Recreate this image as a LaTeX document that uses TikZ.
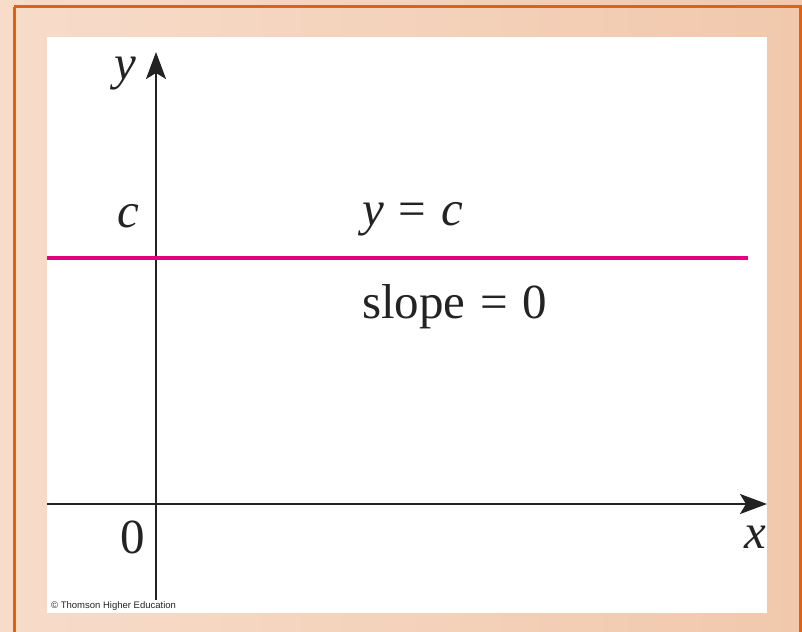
\documentclass[tikz,border=0pt]{standalone}
\usepackage{fontspec}
\setmainfont{Liberation Serif}
\newfontfamily\credfont{Liberation Sans}
\usetikzlibrary{arrows.meta}
\definecolor{peachL}{RGB}{247,220,202}
\definecolor{peachR}{RGB}{241,200,172}
\definecolor{frameOrange}{RGB}{230,96,12}
\definecolor{axisInk}{RGB}{35,35,35}
\definecolor{lineMagenta}{RGB}{228,0,126}
\newcommand{\eqsp}{\hspace{0.3em}=\hspace{0.3em}}
\begin{document}
\begin{tikzpicture}[
  x=1pt, y=-1pt,
  axis/.style={draw=axisInk, line width=2.4pt, -{Stealth[length=27pt, width=20pt, inset=6pt]}},
  hline/.style={draw=lineMagenta, line width=3.2pt},
  lbl/.style={anchor=base, inner sep=0pt, font=\fontsize{49}{56}\selectfont, text=axisInk},
  note/.style={anchor=base west, inner sep=0pt, font=\fontsize{9.5}{11}\credfont, text=axisInk},
]
\useasboundingbox (0,0) rectangle (802,631);
% background and frame
\shade[left color=peachL, right color=peachR] (0,0) rectangle (802,631);
\draw[frameOrange, line width=3pt] (14,7) -- (800,7) -- (800,640);
\draw[frameOrange, line width=3pt] (14,7) -- (14,640);
\fill[white] (47,37) rectangle (767,613);

% axes
\coordinate (xstart) at (47,504);
\coordinate (xend) at (767,504);
\coordinate (ystart) at (156,600);
\coordinate (yend) at (156,52);
\draw[axis] (xstart) -- (xend);
\draw[axis] (ystart) -- (yend);

% horizontal line y = c
\coordinate (hstart) at (47,258);
\coordinate (hend) at (748,258);
\draw[hline] (hstart) -- (hend);

% labels
\node[lbl] (ylab) at (125,80) {\textit{y}};
\node[lbl] (xlab) at (755,548) {\textit{x}};
\node[lbl] (clab) at (128,227) {\textit{c}};
\node[lbl] (zero) at (133,553) {0};
\node[lbl, anchor=base west] (eqn) at (362,225) {\textit{y}\eqsp\textit{c}};
\node[lbl, anchor=base west] (slope) at (362,318) {slope\eqsp0};
\node[note] (credit) at (51,608) {\textcopyright\ Thomson Higher Education};
\end{tikzpicture}
\end{document}
